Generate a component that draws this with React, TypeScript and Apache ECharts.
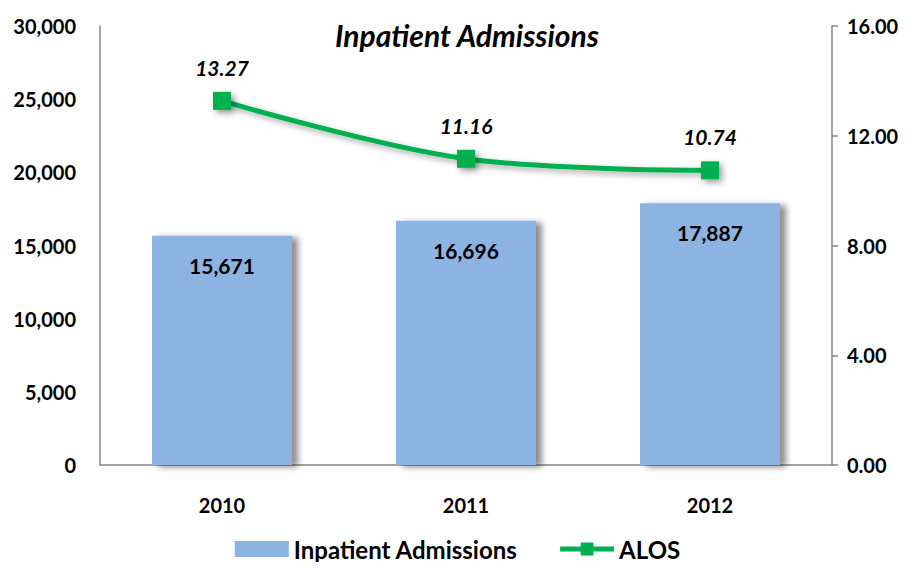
import React, { useEffect, useRef } from "react";
import * as echarts from "echarts";

const categories = ["2010", "2011", "2012"];
const admissions = [15671, 16696, 17887];
const alos = [13.27, 11.16, 10.74];
const titleText = "Inpatient Admissions";
const seriesNames = ["Inpatient Admissions", "ALOS"];

const FONT = "Lato, 'Open Sans', sans-serif";
const W = "bold";

export default function App() {
  const ref = useRef<HTMLDivElement>(null);
  useEffect(() => {
    if (!ref.current) return;
    const chart = echarts.init(ref.current, undefined, { renderer: "svg" });
    chart.setOption({
      animation: false,
      backgroundColor: "#ffffff",
      title: {
        text: titleText,
        left: 462,
        top: 15,
        textAlign: "center",
        textStyle: { fontFamily: FONT, fontSize: 30, fontWeight: W, fontStyle: "italic", color: "#000" },
      },
      grid: { left: 100, right: 83, top: 26, bottom: 105, containLabel: false },
      legend: {
        bottom: 4,
        left: "center",
        itemGap: 40,
        itemWidth: 54,
        itemHeight: 16,
        textStyle: { fontFamily: FONT, fontSize: 24, fontWeight: W, color: "#000" },
        data: [
          { name: seriesNames[0], icon: "rect" },
          { name: seriesNames[1], lineStyle: { width: 5, color: "#00B050" }, itemStyle: { color: "#00B050" } },
        ],
      },
      xAxis: {
        type: "category",
        data: categories,
        axisLine: { show: true, lineStyle: { color: "#868686", width: 1.5 } },
        axisTick: { show: false },
        axisLabel: { margin: 30, fontFamily: FONT, fontSize: 20, fontWeight: W, color: "#000" },
      },
      yAxis: [
        {
          type: "value",
          min: 0,
          max: 30000,
          interval: 5000,
          splitLine: { show: false },
          axisLine: { show: true, lineStyle: { color: "#868686", width: 1.5 } },
          axisTick: { show: false },
          axisLabel: {
            margin: 24,
            fontFamily: FONT,
            fontSize: 20,
            fontWeight: W,
            color: "#000",
            formatter: (v: number) => v.toLocaleString("en-US"),
          },
        },
        {
          type: "value",
          min: 0,
          max: 16,
          interval: 4,
          position: "right",
          splitLine: { show: false },
          axisLine: { show: true, lineStyle: { color: "#868686", width: 1.5 } },
          axisTick: { show: true, length: 6, lineStyle: { color: "#868686", width: 1.5 } },
          axisLabel: {
            margin: 15,
            fontFamily: FONT,
            fontSize: 20,
            fontWeight: W,
            color: "#000",
            formatter: (v: number) => v.toFixed(2),
          },
        },
      ],
      series: [
        {
          name: seriesNames[0],
          type: "bar",
          data: admissions,
          barWidth: 140,
          itemStyle: {
            color: "#8DB3E2",
            shadowColor: "rgba(0,0,0,0.45)",
            shadowBlur: 6,
            shadowOffsetX: 6,
            shadowOffsetY: 2,
          },
          label: {
            show: true,
            position: "insideTop",
            distance: 19,
            fontFamily: FONT,
            fontSize: 21,
            fontWeight: W,
            color: "#000",
            formatter: (p: any) => Number(p.value).toLocaleString("en-US"),
          },
          z: 1,
        },
        {
          name: seriesNames[1],
          type: "line",
          yAxisIndex: 1,
          data: alos,
          smooth: 0.35,
          symbol: "rect",
          symbolSize: 18,
          lineStyle: {
            color: "#00B050",
            width: 5,
            shadowColor: "rgba(0,0,0,0.35)",
            shadowBlur: 6,
            shadowOffsetX: 3,
            shadowOffsetY: 3,
          },
          itemStyle: {
            color: "#00B050",
            shadowColor: "rgba(0,0,0,0.4)",
            shadowBlur: 6,
            shadowOffsetX: 3,
            shadowOffsetY: 3,
          },
          label: {
            show: true,
            position: "top",
            distance: 14,
            fontFamily: FONT,
            fontSize: 21,
            fontWeight: W,
            fontStyle: "italic",
            color: "#000",
            formatter: (p: any) => Number(p.value).toFixed(2),
          },
          z: 3,
        },
      ],
    });
    return () => chart.dispose();
  }, []);
  return <div ref={ref} style={{ width: 915, height: 570, margin: -8 }} />;
}
